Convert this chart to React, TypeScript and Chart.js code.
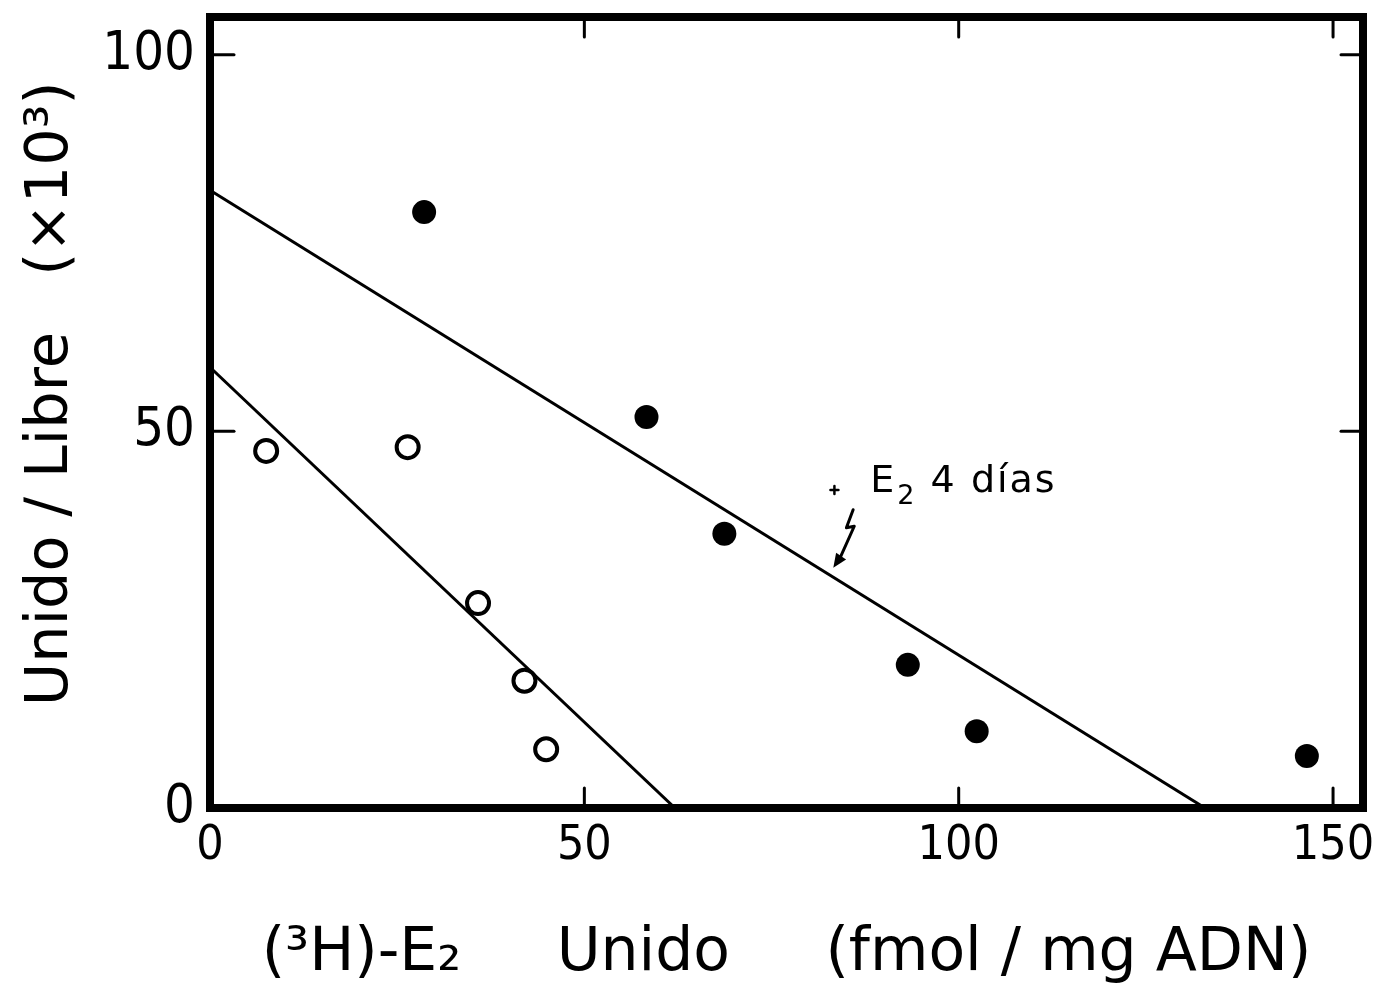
import React, { useEffect, useRef } from "react";
import { Chart, registerables } from "chart.js";

Chart.register(...registerables);

// ---- data ----
const xTicks = [0, 50, 100, 150];
const yTicks = [0, 50, 100];

const filledX = [28.6, 58.3, 68.7, 93.2, 102.4, 146.5];
const filledY = [79.1, 51.9, 36.4, 19.0, 10.2, 6.9];

const openX = [7.5, 26.4, 35.8, 42.0, 44.9];
const openY = [47.4, 47.9, 27.2, 16.9, 7.8];

const upperLineX = [0, 132.9];
const upperLineY = [82.0, 0];

const lowerLineX = [0, 62.1];
const lowerLineY = [58.5, 0];

const xTitle = "(³H)-E₂     Unido     (fmol / mg ADN)";
const yTitle = "  Unido / Libre   (×10³)";

const annotationMain = "E";
const annotationSub = "2";
const annotationRest = " 4 días";
const annotationTextAt = [88.2, 41.9];
const annotationPlusAt = [83.4, 42.2];
const arrowPathX = [85.9, 85.0, 86.05, 84.2, 83.25];
const arrowPathY = [39.6, 37.2, 37.4, 33.3, 31.9];

const X_MIN = 0;
const X_MAX = 154;
const Y_MIN = 0;
const Y_MAX = 105;

const zip = (xs: number[], ys: number[]) => xs.map((x, i) => ({ x, y: ys[i] }));

const TICK_FONT = "'Liberation Sans Narrow', 'DejaVu Sans Condensed', 'Liberation Sans', sans-serif";
const TITLE_FONT = "'DejaVu Sans', sans-serif";

const framePlugin = {
  id: "frameTicksAnnotation",
  afterDraw(chart: any) {
    const { ctx, chartArea: a, scales } = chart;
    const xs = scales.x;
    const ys = scales.y;
    const seg = (x1: number, y1: number, x2: number, y2: number) => {
      ctx.beginPath();
      ctx.moveTo(x1, y1);
      ctx.lineTo(x2, y2);
      ctx.stroke();
    };
    ctx.save();
    ctx.strokeStyle = "#000";
    ctx.fillStyle = "#000";
    ctx.lineCap = "round";
    ctx.lineWidth = 3;
    for (const v of xTicks) {
      if (v <= xs.min || v >= xs.max) continue;
      const px = xs.getPixelForValue(v);
      seg(px, a.bottom, px, a.bottom - 20);
      seg(px, a.top, px, a.top + 20);
    }
    for (const v of yTicks) {
      if (v <= ys.min || v >= ys.max) continue;
      const py = ys.getPixelForValue(v);
      seg(a.left, py, a.left + 24, py);
      seg(a.right, py, a.right - 22, py);
    }
    // frame
    ctx.lineCap = "butt";
    ctx.lineJoin = "miter";
    ctx.lineWidth = 8;
    ctx.strokeRect(a.left, a.top, a.right - a.left, a.bottom - a.top);

    // annotation: plus mark
    const pxp = xs.getPixelForValue(annotationPlusAt[0]);
    const pyp = ys.getPixelForValue(annotationPlusAt[1]);
    ctx.lineWidth = 2.5;
    ctx.lineCap = "round";
    seg(pxp - 4, pyp, pxp + 4, pyp);
    seg(pxp, pyp - 4, pxp, pyp + 4);

    // annotation text (E with subscript 2)
    const tx0 = xs.getPixelForValue(annotationTextAt[0]);
    const ty0 = ys.getPixelForValue(annotationTextAt[1]);
    ctx.textBaseline = "alphabetic";
    ctx.textAlign = "left";
    try {
      (ctx as any).letterSpacing = "2px";
    } catch (e) {}
    ctx.font = `38px ${TITLE_FONT}`;
    ctx.fillText(annotationMain, tx0, ty0);
    let cx = tx0 + ctx.measureText(annotationMain).width + 1;
    ctx.font = `27px ${TITLE_FONT}`;
    ctx.fillText(annotationSub, cx, ty0 + 12);
    cx += ctx.measureText(annotationSub).width;
    ctx.font = `38px ${TITLE_FONT}`;
    ctx.fillText(annotationRest, cx, ty0);
    try {
      (ctx as any).letterSpacing = "0px";
    } catch (e) {}

    // lightning arrow
    const pts = arrowPathX.map((x, i) => [xs.getPixelForValue(x), ys.getPixelForValue(arrowPathY[i])]);
    ctx.lineWidth = 3;
    ctx.lineJoin = "round";
    ctx.beginPath();
    ctx.moveTo(pts[0][0], pts[0][1]);
    for (let i = 1; i < pts.length - 1; i++) ctx.lineTo(pts[i][0], pts[i][1]);
    ctx.stroke();
    const [tx, ty] = pts[pts.length - 1];
    const [bx, by] = pts[pts.length - 2];
    const dx = tx - bx;
    const dy = ty - by;
    const len = Math.hypot(dx, dy);
    const ux = dx / len;
    const uy = dy / len;
    const hl = 14;
    const hw = 6;
    ctx.beginPath();
    ctx.moveTo(tx, ty);
    ctx.lineTo(tx - ux * hl - uy * hw, ty - uy * hl + ux * hw);
    ctx.lineTo(tx - ux * hl + uy * hw, ty - uy * hl - ux * hw);
    ctx.closePath();
    ctx.fill();
    ctx.restore();
  },
};

const zeroPadding = (s: any) => {
  s.paddingTop = 0;
  s.paddingBottom = 0;
  s.paddingLeft = 0;
  s.paddingRight = 0;
};

export default function App() {
  const ref = useRef<HTMLCanvasElement | null>(null);

  useEffect(() => {
    if (!ref.current) return;
    const chart = new Chart(ref.current, {
      type: "scatter",
      data: {
        datasets: [
          {
            type: "line",
            data: zip(upperLineX, upperLineY),
            borderColor: "#000",
            borderWidth: 3,
            pointRadius: 0,
            fill: false,
            order: 3,
          } as any,
          {
            type: "line",
            data: zip(lowerLineX, lowerLineY),
            borderColor: "#000",
            borderWidth: 3,
            pointRadius: 0,
            fill: false,
            order: 3,
          } as any,
          {
            data: zip(filledX, filledY),
            pointRadius: 12,
            pointBackgroundColor: "#000",
            pointBorderColor: "#000",
            pointBorderWidth: 0,
            order: 1,
          },
          {
            data: zip(openX, openY),
            pointRadius: 11,
            pointBackgroundColor: "#fff",
            pointBorderColor: "#000",
            pointBorderWidth: 4,
            order: 1,
          },
        ],
      },
      options: {
        responsive: false,
        animation: false,
        events: [],
        layout: { padding: { left: 0, top: 17, right: 12, bottom: 0 } },
        plugins: {
          legend: { display: false },
          tooltip: { enabled: false },
        },
        scales: {
          x: {
            type: "linear",
            min: X_MIN,
            max: X_MAX,
            afterBuildTicks: (s: any) => {
              s.ticks = xTicks.map((v) => ({ value: v }));
            },
            afterFit: (s: any) => {
              s.height = 176;
              zeroPadding(s);
            },
            grid: { display: false, drawTicks: false, tickLength: 0 },
            border: { display: false },
            ticks: {
              color: "#000",
              padding: 10,
              maxRotation: 0,
              autoSkip: false,
              font: { family: TICK_FONT, size: 48 },
            },
            title: {
              display: true,
              text: xTitle,
              color: "#000",
              padding: { top: 0, bottom: 0 },
              font: { family: TITLE_FONT, size: 60, lineHeight: 1.0 },
            },
          },
          y: {
            type: "linear",
            min: Y_MIN,
            max: Y_MAX,
            afterBuildTicks: (s: any) => {
              s.ticks = yTicks.map((v) => ({ value: v }));
            },
            afterFit: (s: any) => {
              s.width = 210;
              zeroPadding(s);
            },
            grid: { display: false, drawTicks: false, tickLength: 0 },
            border: { display: false },
            ticks: {
              color: "#000",
              padding: 15,
              autoSkip: false,
              font: { family: TICK_FONT, size: 54 },
            },
            title: {
              display: true,
              text: yTitle,
              color: "#000",
              padding: { top: 16, bottom: 0 },
              font: { family: TITLE_FONT, size: 59 },
            },
          },
        },
      },
      plugins: [framePlugin],
    } as any);
    return () => chart.destroy();
  }, []);

  return (
    <div style={{ position: "fixed", left: 0, top: 0, width: 1378, height: 984, background: "#fff" }}>
      <canvas ref={ref} width={1378} height={984} style={{ display: "block", width: 1378, height: 984 }} />
    </div>
  );
}
